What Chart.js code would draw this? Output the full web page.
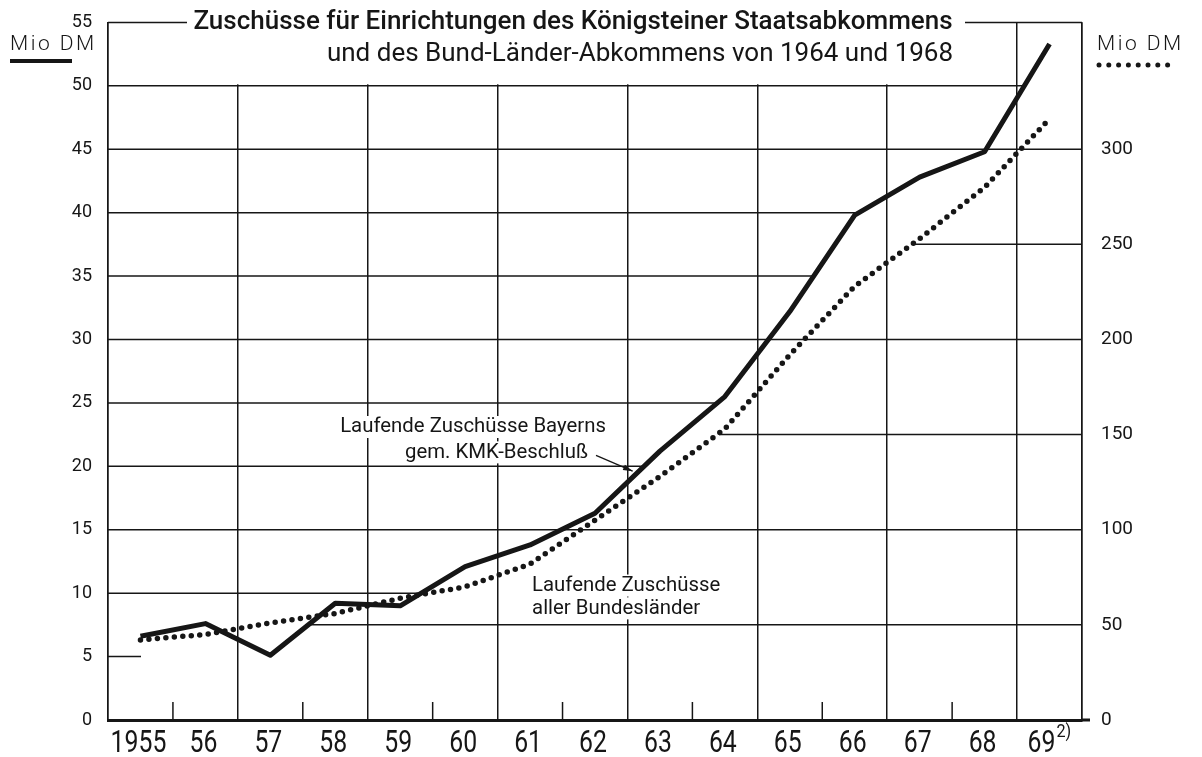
<!DOCTYPE html>
<html>
<head>
<meta charset="utf-8">
<script src="https://cdn.jsdelivr.net/npm/chart.js@4"></script>
<style>
  html, body { margin: 0; padding: 0; background: #fff; }
</style>
</head>
<body>
<canvas id="chart" width="1202" height="757"></canvas>
<script>
// Daten
const jahre = ['1955', '56', '57', '58', '59', '60', '61', '62', '63', '64', '65', '66', '67', '68', '69'];
const fussnoten = ['', '', '', '', '', '', '', '', '', '', '', '', '', '', '2)'];
const bayern = [6.6, 7.6, 5.1, 9.2, 9.0, 12.1, 13.8, 16.3, 21.2, 25.5, 32.2, 39.8, 42.8, 44.8, 53.3];      // Mio DM, linke Achse
const alleLaender = [42, 45, 51, 56, 64, 70, 82, 105, 128, 153, 192, 228, 253, 280, 316];                // Mio DM, rechte Achse
const linksMax = 55;
const rechtsMax = 55 * 20 / 3;
const rechtsLabels = [0, 50, 100, 150, 200, 250, 300];

const INK = '#161616';
const schrift = "'Roboto', 'Liberation Sans', sans-serif";

function kurveY(pts, px) {
  if (px < pts[0].x) return null;
  const last = pts[pts.length - 1];
  if (px >= last.x) return last.y;
  for (let i = 1; i < pts.length; i++) {
    if (px <= pts[i].x) {
      const t = (px - pts[i - 1].x) / (pts[i].x - pts[i - 1].x);
      return pts[i - 1].y + t * (pts[i].y - pts[i - 1].y);
    }
  }
  return last.y;
}

// schmale Schrift: horizontal gestaucht
function schmalText(ctx, text, x, y, align, sx) {
  ctx.save();
  ctx.translate(x, y);
  ctx.scale(sx, 1);
  ctx.textAlign = align;
  ctx.fillText(text, 0, 0);
  ctx.restore();
  return ctx.measureText(text).width * sx;
}

function textMitHintergrund(ctx, text, x, y, align) {
  const sx = 0.97;
  const w = ctx.measureText(text).width * sx;
  const x0 = align === 'right' ? x - w : x;
  ctx.fillStyle = '#fff';
  ctx.fillRect(x0 - 4, y - 11, w + 8, 22);
  ctx.fillStyle = INK;
  schmalText(ctx, text, x, y, align, sx);
}

const gitterPlugin = {
  id: 'gitter',
  beforeDatasetsDraw(chart) {
    const { ctx, chartArea: a, scales: { x, y, y2 } } = chart;
    const linie = chart.getDatasetMeta(0).data;
    const punkte = chart.getDatasetMeta(1).data;
    ctx.save();
    ctx.strokeStyle = INK;
    ctx.lineWidth = 1.5;

    const rechtsPx = y2.ticks.map(t => y2.getPixelForValue(t.value)).filter(p => p < a.bottom - 1);
    const linksPx = y.ticks.map(t => y.getPixelForValue(t.value)).filter(p => p < a.bottom - 1);
    const gemeinsam = p => rechtsPx.some(q => Math.abs(q - p) < 1) && linksPx.some(q => Math.abs(q - p) < 1);

    function segmente(Y, sichtbar) {
      let start = null;
      for (let px = a.left; px <= a.right + 0.5; px += 1) {
        const v = sichtbar(px);
        if (v && start === null) start = px;
        if ((!v || px + 1 > a.right + 0.5) && start !== null) {
          ctx.beginPath();
          ctx.moveTo(start, Y);
          ctx.lineTo(v ? a.right : px, Y);
          ctx.stroke();
          start = null;
        }
      }
    }

    // Linke Gitterlinien: nur oberhalb beider Kurven
    linksPx.forEach(Y => {
      if (gemeinsam(Y)) { segmente(Y, () => true); return; }
      segmente(Y, px => {
        const s = kurveY(linie, px), d = kurveY(punkte, px);
        if (s === null) return true;
        return s > Y + 1 && d > Y + 1;
      });
    });
    // Rechte Gitterlinien: nur unterhalb beider Kurven
    rechtsPx.forEach(Y => {
      if (gemeinsam(Y)) return;
      segmente(Y, px => {
        const s = kurveY(linie, px), d = kurveY(punkte, px);
        if (s === null) return false;
        return s < Y - 1 && d < Y - 1;
      });
    });

    // kurze Striche an der Grundlinie
    for (let i = 1; i < jahre.length; i += 2) {
      const px = (x.getPixelForValue(i - 1) + x.getPixelForValue(i)) / 2;
      ctx.beginPath();
      ctx.moveTo(px, a.bottom);
      ctx.lineTo(px, a.bottom - 18);
      ctx.stroke();
    }
    // Grundlinie etwas verlaengert
    ctx.lineWidth = 3;
    ctx.beginPath();
    ctx.moveTo(a.right, a.bottom);
    ctx.lineTo(a.right + 8, a.bottom);
    ctx.stroke();

    // Titelfeld
    ctx.fillStyle = '#fff';
    ctx.fillRect(187, 0, 778, y.getPixelForValue(50) - 1.5);
    ctx.fillStyle = INK;
    ctx.textBaseline = 'middle';
    ctx.textAlign = 'center';
    ctx.font = '500 26px ' + schrift;
    ctx.fillText('Zuschüsse für Einrichtungen des Königsteiner Staatsabkommens', 573, 22);
    ctx.font = '400 26px ' + schrift;
    ctx.fillText('und des Bund-Länder-Abkommens von 1964 und 1968', 640, 54);

    // Achsenbezeichnungen
    ctx.font = '300 21px ' + schrift;
    ctx.textAlign = 'left';
    ctx.letterSpacing = '2.5px';
    ctx.fillText('Mio DM', 10, 45);
    ctx.fillText('Mio DM', 1097, 45);
    ctx.letterSpacing = '0px';
    ctx.lineWidth = 4;
    ctx.beginPath();
    ctx.moveTo(10, 61);
    ctx.lineTo(72, 61);
    ctx.stroke();
    for (let i = 0; i < 8; i++) {
      ctx.beginPath();
      ctx.arc(1099 + i * 9.8, 65, 2.5, 0, Math.PI * 2);
      ctx.fill();
    }

    // Beschriftungen der Kurven
    ctx.font = '400 21px ' + schrift;
    const r1 = x.getPixelForValue(7) + 11;
    const yA = y.getPixelForValue(23.1), yB = y.getPixelForValue(21.1);
    textMitHintergrund(ctx, 'Laufende Zuschüsse Bayerns', r1, yA, 'right');
    textMitHintergrund(ctx, 'gem. KMK-Beschluß', r1 - 18, yB, 'right');

    const l2 = x.getPixelForValue(6) + 2;
    textMitHintergrund(ctx, 'Laufende Zuschüsse', l2, y.getPixelForValue(10.6), 'left');
    textMitHintergrund(ctx, 'aller Bundesländer', l2, y.getPixelForValue(8.8), 'left');

    // Pfeil
    const p0 = linie[7], p1 = linie[8];
    const tx = p0.x + (p1.x - p0.x) * 0.58, ty = p0.y + (p1.y - p0.y) * 0.58 - 6;
    const sx = r1 - 10, sy = yB + 3;
    ctx.lineWidth = 1.3;
    ctx.beginPath();
    ctx.moveTo(sx, sy);
    ctx.lineTo(tx, ty);
    ctx.stroke();
    const ang = Math.atan2(ty - sy, tx - sx);
    ctx.beginPath();
    ctx.moveTo(tx, ty);
    ctx.lineTo(tx - 10 * Math.cos(ang - 0.28), ty - 10 * Math.sin(ang - 0.28));
    ctx.lineTo(tx - 10 * Math.cos(ang + 0.28), ty - 10 * Math.sin(ang + 0.28));
    ctx.closePath();
    ctx.fill();

    // Jahreszahlen unter der Achse
    ctx.textBaseline = 'alphabetic';
    jahre.forEach((j, i) => {
      const cx = x.getPixelForValue(i) - 2;
      ctx.font = '400 31px ' + schrift;
      const w = schmalText(ctx, j, cx - (fussnoten[i] ? 6 : 0), 752, 'center', 0.8);
      if (fussnoten[i]) {
        ctx.font = '400 18px ' + schrift;
        schmalText(ctx, fussnoten[i], cx - 6 + w / 2 + 1, 737, 'left', 0.9);
      }
    });
    ctx.restore();
  }
};

new Chart(document.getElementById('chart'), {
  type: 'line',
  data: {
    labels: jahre.map((j, i) => j + fussnoten[i]),
    datasets: [
      {
        label: 'Laufende Zuschüsse Bayerns gem. KMK-Beschluß',
        data: bayern,
        yAxisID: 'y',
        borderColor: INK,
        borderWidth: 5,
        borderJoinStyle: 'round',
        pointRadius: 0,
        tension: 0
      },
      {
        label: 'Laufende Zuschüsse aller Bundesländer',
        data: alleLaender,
        yAxisID: 'y2',
        borderColor: INK,
        borderWidth: 5.5,
        borderCapStyle: 'round',
        borderDash: [0, 8.5],
        pointRadius: 0,
        tension: 0
      }
    ]
  },
  options: {
    responsive: false,
    animation: false,
    devicePixelRatio: 1,
    layout: { padding: { top: 16, left: 0, right: 0, bottom: 0 } },
    plugins: { legend: { display: false }, tooltip: { enabled: false }, title: { display: false } },
    scales: {
      x: {
        type: 'category',
        offset: true,
        grid: {
          offset: true,
          drawTicks: false,
          lineWidth: 1.5,
          color: ctx => (ctx.index === undefined || ctx.index % 2 === 0) ? INK : 'rgba(0,0,0,0)'
        },
        border: { width: 3, color: INK },
        ticks: { display: false },
        afterFit: s => { s.height = 37; }
      },
      y: {
        position: 'left',
        min: 0,
        max: linksMax,
        grid: { display: false },
        border: { width: 1.5, color: INK },
        ticks: {
          stepSize: 5,
          color: INK,
          font: { family: schrift, size: 18 },
          padding: 8
        },
        afterFit: s => { s.width = 108; }
      },
      y2: {
        position: 'right',
        min: 0,
        max: rechtsMax,
        grid: { display: false },
        border: { width: 1.5, color: INK },
        ticks: {
          stepSize: 50,
          color: INK,
          font: { family: schrift, size: 19 },
          padding: 11,
          callback: v => rechtsLabels.includes(v) ? v : ''
        },
        afterFit: s => { s.width = 120; }
      }
    }
  },
  plugins: [gitterPlugin]
});
</script>
</body>
</html>
